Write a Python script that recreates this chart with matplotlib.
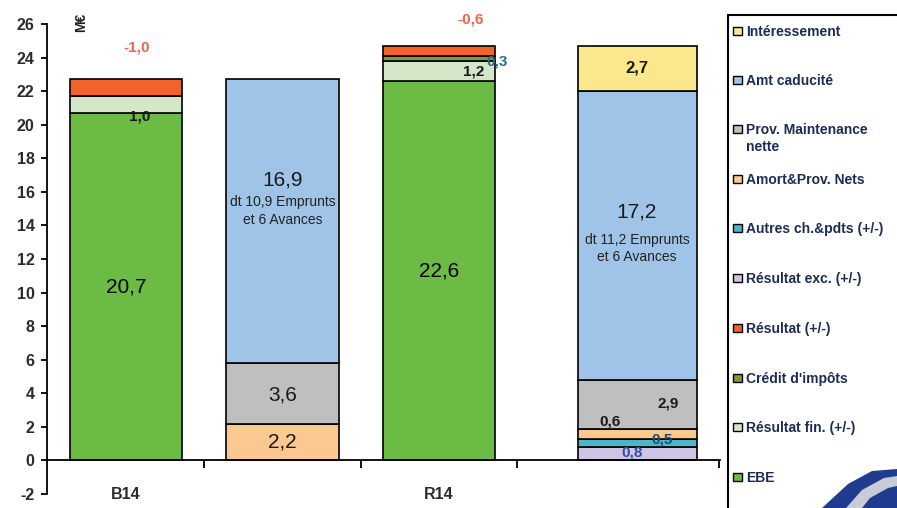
import matplotlib
matplotlib.use('Agg')
import matplotlib.pyplot as plt
from matplotlib.patches import Rectangle, Polygon
import numpy as np

plt.rcParams['font.family'] = ['Liberation Sans', 'DejaVu Sans']

W, H = 897, 508

# colonnes : ressources / emplois pour B14 puis R14 (la 4e est décalée à droite)
x_pos = [0.0, 1.0, 2.0, 3.265]
bar_w = [0.72, 0.72, 0.72, 0.76]
cat_pos = [0, 2]
cat_labels = ['B14', 'R14']
y_ticks = list(range(-2, 27, 2))

# séries empilées, du bas vers le haut (M€)
ebe = [20.7, 0, 22.6, 0]
res_fin = [1.0, 0, 1.2, 0]
credit_impots = [0, 0, 0.3, 0]
resultat = [1.0, 0, 0.6, 0]          # perte, affichée en négatif
res_exc = [0, 0, 0, 0.8]
autres = [0, 0, 0, 0.5]
amort_prov = [0, 2.2, 0, 0.6]
prov_maint = [0, 3.6, 0, 2.9]
amt_caducite = [0, 16.9, 0, 17.2]
interessement = [0, 0, 0, 2.7]

# détail de l'amortissement de caducité
emprunts = [None, 10.9, None, 11.2]
avances = [None, 6, None, 6]

series = [
    ("EBE", ebe, "#6cbb45"),
    ("Résultat fin. (+/-)", res_fin, "#d4e7c8"),
    ("Crédit d'impôts", credit_impots, "#7f9a3c"),
    ("Résultat (+/-)", resultat, "#f2622a"),
    ("Résultat exc. (+/-)", res_exc, "#cfc4e2"),
    ("Autres ch.&pdts (+/-)", autres, "#4db6c8"),
    ("Amort&Prov. Nets", amort_prov, "#fbc990"),
    ("Prov. Maintenance\nnette", prov_maint, "#bfbfbf"),
    ("Amt caducité", amt_caducite, "#9fc4e8"),
    ("Intéressement", interessement, "#fbe88c"),
]


def fmt(v):
    return f"{v:.1f}".replace('.', ',')


fig = plt.figure(figsize=(W / 100, H / 100), dpi=100)
ax = fig.add_axes([47 / W, 1 - 494 / H, (720 - 47) / W, (494 - 24) / H])

# empilement
bottoms = np.zeros(len(x_pos))
seg = {}
for si, (name, vals, col) in enumerate(series):
    for bi, v in enumerate(vals):
        if v <= 0:
            continue
        ax.bar(x_pos[bi], v, bar_w[bi], bottom=bottoms[bi], color=col,
               edgecolor='black', linewidth=1.2, zorder=2)
        seg[(si, bi)] = (bottoms[bi], v)
    bottoms += np.array(vals)

# étiquettes : (série, colonne, dx, dy, taille, couleur, négatif)
labels = [
    (0, 0, 0.0, 0.0, 15, 'black', False),
    (1, 0, 0.09, -0.7, 11, '#1a1a1a', False),
    (3, 0, 0.07, 2.4, 11, '#f0644a', True),
    (8, 1, 0.0, 2.45, 15, '#1a1a1a', False),
    (7, 1, 0.0, -0.1, 15, '#1a1a1a', False),
    (6, 1, 0.0, 0.0, 15, '#1a1a1a', False),
    (0, 2, 0.0, 0.0, 15, 'black', False),
    (1, 2, 0.22, -0.05, 11, '#1a1a1a', False),
    (2, 2, 0.37, -0.2, 11, '#2a6a88', False),
    (3, 2, 0.2, 1.85, 11, '#f0644a', True),
    (9, 3, 0.0, 0.05, 12, '#1a1a1a', False),
    (8, 3, 0.0, 1.4, 15, '#1a1a1a', False),
    (7, 3, 0.2, 0.05, 11, '#1a1a1a', False),
    (6, 3, -0.17, 0.7, 11, '#1a1a1a', False),
    (5, 3, 0.16, 0.2, 11, '#1f4f6a', False),
    (4, 3, -0.03, 0.08, 11, '#3050a0', False),
]
for si, bi, dx, dy, fs, col, neg in labels:
    b, v = seg[(si, bi)]
    txt = ("-" if neg else "") + fmt(v)
    ax.text(x_pos[bi] + dx, b + v / 2 + dy, txt, ha='center', va='center',
            fontsize=fs, color=col, zorder=4,
            fontweight='normal' if fs >= 15 else 'bold')

# détail emprunts / avances sous le montant de caducité
sub_dy = {1: (1.15, 0.05), 3: (-0.25, -1.3)}
for bi, (d1, d2) in sub_dy.items():
    b, v = seg[(8, bi)]
    yc = b + v / 2
    ax.text(x_pos[bi], yc + d1, f"dt {fmt(emprunts[bi])} Emprunts",
            ha='center', va='center', fontsize=10, color='#222222', zorder=4)
    ax.text(x_pos[bi], yc + d2, f"et {avances[bi]} Avances",
            ha='center', va='center', fontsize=10, color='#222222', zorder=4)

# axes
ax.set_xlim(-0.505, 3.795)
ax.set_ylim(-2, 26)
ax.set_yticks(y_ticks)
ax.set_yticklabels([str(t) for t in y_ticks])
for s in ['top', 'right']:
    ax.spines[s].set_visible(False)
ax.spines['bottom'].set_position(('data', 0))
ax.spines['bottom'].set_linewidth(1.3)
ax.spines['left'].set_linewidth(1.3)
ax.set_xticks(cat_pos)
ax.set_xticklabels(cat_labels)
ax.set_xticks([0.5, 1.5, 2.5, 3.79], minor=True)
ax.tick_params(axis='x', which='major', length=0, pad=19,
               labelsize=11.5, labelcolor='#2b2b2b')
ax.tick_params(axis='x', which='minor', length=6, width=1.3, direction='out')
ax.tick_params(axis='y', length=4, width=1.3, pad=5, labelsize=11.5,
               labelcolor='#2b2b2b')
for lab in ax.get_xticklabels() + ax.get_yticklabels():
    lab.set_fontweight('bold')

fig.text(81 / W, 1 - 22 / H, "M€", rotation=90, ha='center', va='center',
         fontsize=10, fontweight='bold', color='#222222')

# légende
tf = fig.transFigure
fig.add_artist(Rectangle((728 / W, -0.1), 0.3, 1 - 15 / H + 0.1, transform=tf,
                         fill=False, edgecolor='black', linewidth=1.5))
leg_y = [31, 80, 129, 179, 228, 278, 328, 378, 427, 477]
for (name, vals, col), py in zip(series[::-1], leg_y):
    fig.add_artist(Rectangle((733 / W, 1 - (py + 4) / H), 9 / W, 8 / H,
                             transform=tf, facecolor=col, edgecolor='black',
                             linewidth=1.0))
    for k, line in enumerate(name.split('\n')):
        fig.text(746 / W, 1 - (py + 5 + 17 * k) / H, line, ha='left',
                 va='baseline', fontsize=10, fontweight='bold',
                 color='#1c2c57')

# logo en bas à droite
fig.add_artist(Polygon([(822 / W, 0), (848 / W, 1 - 484 / H), (872 / W, 1 - 471 / H),
                        (1, 1 - 469 / H), (1, 0)], closed=True, transform=tf,
                       facecolor='#1f3c8f', edgecolor='none'))
fig.add_artist(Polygon([(846 / W, 0), (862 / W, 1 - 490 / H), (884 / W, 1 - 478 / H),
                        (1, 1 - 476 / H), (1, 1 - 486 / H), (888 / W, 1 - 488 / H),
                        (870 / W, 1 - 498 / H), (862 / W, 0)], closed=True,
                       transform=tf, facecolor='#c9ccd6', edgecolor='none'))

fig.savefig('out.png', dpi=100)
